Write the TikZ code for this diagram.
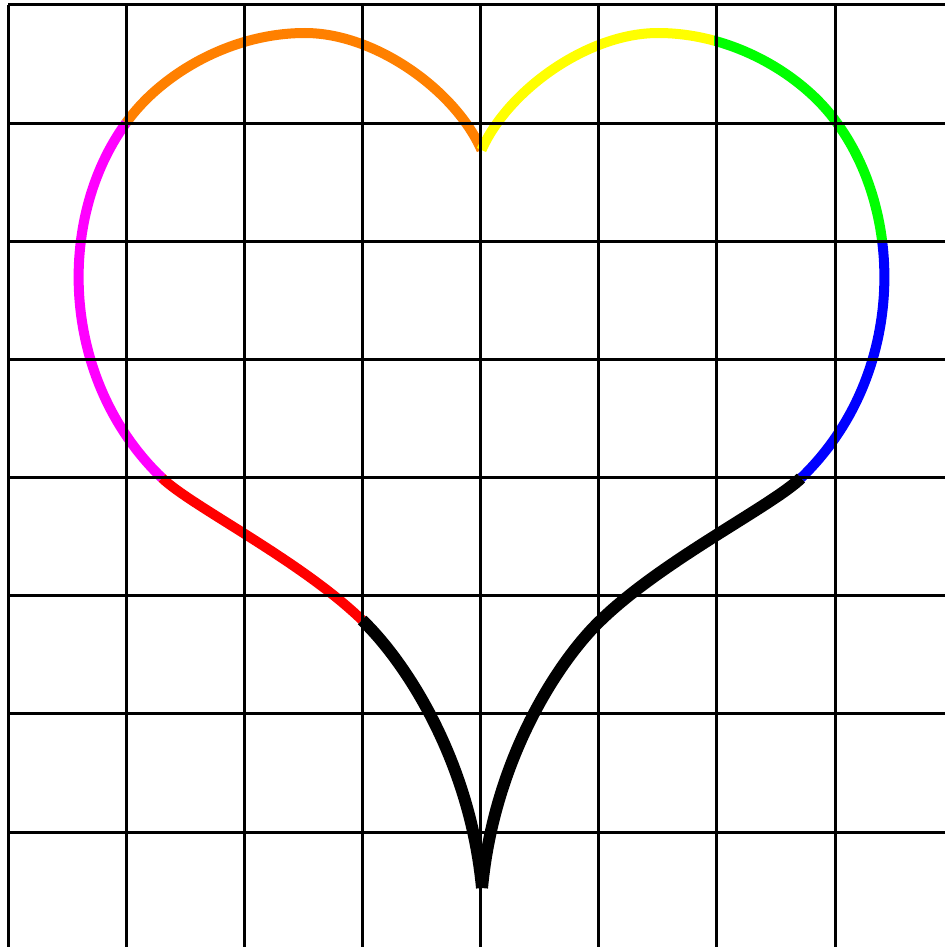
\documentclass[tikz,border=0pt]{standalone}
\definecolor{horange}{RGB}{255,128,0}
\definecolor{hmagenta}{RGB}{255,0,255}
\definecolor{hyellow}{RGB}{255,255,0}
\definecolor{hgreen}{RGB}{0,255,0}
\definecolor{hblue}{RGB}{0,0,255}
\definecolor{hred}{RGB}{255,0,0}
\begin{document}
\begin{tikzpicture}[x=1pt,y=-1pt,
  heart/.style={line width=10pt, line cap=butt, line join=round},
  heartk/.style={line width=12pt, line cap=butt, line join=round, black},
  gridline/.style={line width=3pt, black, line cap=square}]
\useasboundingbox (0,0) rectangle (945,947);
\fill[white] (0,0) rectangle (945,947);
% left half
\draw[heart, horange] (481.5,150) .. controls (455,90) and (375,33) .. (305,33)
  .. controls (230,33) and (160,75) .. (126,123);
\draw[heart, hmagenta] (126,123) .. controls (56,219) and (60,380) .. (162,478);
\draw[heart, hred] (162,478) .. controls (191,506) and (300,560) .. (362,620);
\draw[heartk] (362,620) .. controls (405,661) and (470,760) .. (482,888);
% right half
\draw[heart, hyellow] (481.5,150) .. controls (508,90) and (588,33) .. (658,33);
\begin{scope}
  \clip (600,0) rectangle (714,200);
  \draw[heart, hyellow] (658,33) .. controls (733,33) and (803,75) .. (837,123);
\end{scope}
\begin{scope}
  \clip (714,0) rectangle (945,241);
  \draw[heart, hgreen] (658,33) .. controls (733,33) and (803,75) .. (837,123);
  \draw[heart, hgreen] (837,123) .. controls (907,219) and (903,380) .. (801,478);
\end{scope}
\begin{scope}
  \clip (700,241) rectangle (945,600);
  \draw[heart, hblue] (837,123) .. controls (907,219) and (903,380) .. (801,478);
\end{scope}
\draw[heartk] (801,478) .. controls (772,506) and (663,560) .. (601,620)
  .. controls (558,661) and (494,760) .. (482,888);
% grid
\foreach \i in {0,...,7} {
  \draw[gridline] ({8+118.15*\i},5) -- ({8+118.15*\i},947);
  \draw[gridline] (8,{5+118.15*\i}) -- (945,{5+118.15*\i});
}
\end{tikzpicture}
\end{document}
